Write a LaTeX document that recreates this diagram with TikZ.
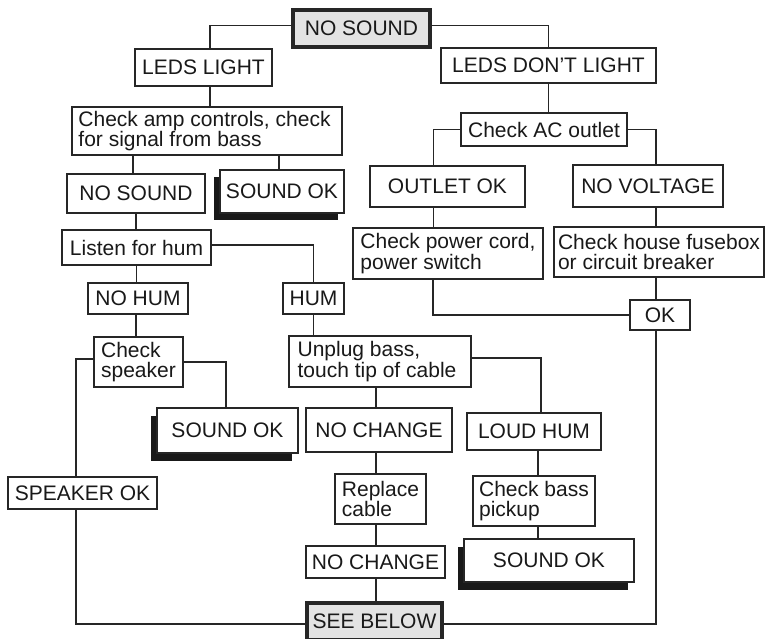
\documentclass[tikz,border=0pt]{standalone}
\usepackage{fontspec}
\setmainfont{Liberation Sans}
\usetikzlibrary{shadows}
\begin{document}
\begin{tikzpicture}[x=1pt,y=-1pt,
  box/.style={draw=black!85,line width=1.4pt,fill=white,inner sep=0pt,text=black!90,
    font=\fontsize{21}{20.5}\selectfont,align=left},
  bold box/.style={box,line width=3.6pt,fill=gray!22},
  shadowed/.style={drop shadow={shadow xshift=-6pt,shadow yshift=-7.5pt,opacity=1,fill=black!90}},
  con/.style={draw=black!85,line width=1.4pt}]
\useasboundingbox (0,0) rectangle (766,639);
\fill[white] (0,0) rectangle (766,639);

\node[bold box,minimum width=137pt,minimum height=37pt] (top) at (361.5,28.5) {NO SOUND};
\node[box,minimum width=137pt,minimum height=37pt] (ledsL) at (203.5,67.5) {LEDS LIGHT};
\node[box,minimum width=215pt,minimum height=35pt] (ledsD) at (548.5,65.5) {LEDS DON'T LIGHT};
\node[box,minimum width=270pt,minimum height=48pt] (amp) at (207,131) {Check amp controls, check\hspace*{5pt}\\for signal from bass};
\node[box,minimum width=138pt,minimum height=39pt] (ns2) at (136,193.5) {NO SOUND};
\node[box,shadowed,minimum width=124pt,minimum height=43pt] (ok1) at (282,191.5) {SOUND OK};
\node[box,minimum width=166pt,minimum height=33pt] (acout) at (544,129.5) {Check AC outlet};
\node[box,minimum width=155pt,minimum height=41pt] (outok) at (447.5,186.5) {OUTLET OK};
\node[box,minimum width=150pt,minimum height=42pt] (novolt) at (648,186) {NO VOLTAGE};
\node[box,minimum width=149pt,minimum height=35pt] (listen) at (136.5,247.5) {Listen for hum};
\node[box,minimum width=190pt,minimum height=51pt] (cord) at (448,253.5) {Check power cord,\\power switch};
\node[box,minimum width=210pt,minimum height=50pt] (fuse) at (659,252) {Check house fusebox\\or circuit breaker};
\node[box,minimum width=100pt,minimum height=31pt] (nohum) at (138,298.5) {NO HUM};
\node[box,minimum width=61pt,minimum height=31pt] (hum) at (313.5,298.5) {HUM};
\node[box,minimum width=60pt,minimum height=30pt] (okv) at (660,315) {OK};
\node[box,minimum width=89pt,minimum height=50pt] (spk) at (138.5,362) {Check\\speaker};
\node[box,minimum width=182pt,minimum height=51pt] (unplug) at (380,361.5) {Unplug bass,\\touch tip of cable\hspace*{6pt}};
\node[box,shadowed,minimum width=141pt,minimum height=45pt] (ok2) at (227.5,430.5) {SOUND OK};
\node[box,minimum width=146pt,minimum height=44pt] (nc1) at (379,430) {NO CHANGE};
\node[box,minimum width=134pt,minimum height=37pt] (loud) at (534,431.5) {LOUD HUM};
\node[box,minimum width=149pt,minimum height=32pt] (spkok) at (82.5,493) {SPEAKER OK};
\node[box,minimum width=91pt,minimum height=50pt] (repl) at (380.5,499) {Replace\\cable};
\node[box,minimum width=122pt,minimum height=50pt] (bassp) at (534,501) {Check bass\\pickup};
\node[box,minimum width=139pt,minimum height=32pt] (nc2) at (375.5,562) {NO CHANGE};
\node[box,shadowed,minimum width=170pt,minimum height=43pt] (ok3) at (549,560.5) {SOUND OK};
\node[bold box,minimum width=135pt,minimum height=37pt] (see) at (374.5,621.5) {SEE BELOW};

\draw[con] ([yshift=3pt]top.west) -| ([xshift=6.5pt]ledsL.north);
\draw[con] ([yshift=3pt]top.east) -| (ledsD.north);
\draw[con] ([xshift=6.5pt]ledsL.south) -- ([xshift=6.5pt]ledsL.south |- amp.north);
\draw[con] ([xshift=-3pt]ns2.north) -- ([xshift=-3pt]ns2.north |- amp.south);
\draw[con] ([xshift=-3pt]ok1.north) -- ([xshift=-3pt]ok1.north |- amp.south);
\draw[con] (ledsD.south) -- (ledsD.south |- acout.north);
\draw[con] (acout.west) -| ([xshift=-14pt]outok.north);
\draw[con] (acout.east) -| ([xshift=8pt]novolt.north);
\draw[con] ([xshift=-14pt]outok.south) -- ([xshift=-14pt]outok.south |- cord.north);
\draw[con] ([xshift=8pt]novolt.south) -- ([xshift=8pt]novolt.south |- fuse.north);
\draw[con] ([xshift=-4pt]okv.north) -- ([xshift=-4pt]okv.north |- fuse.south);
\draw[con] (okv.west) -| ([xshift=-15pt]cord.south);
\draw[con] ([xshift=-4pt]okv.south) |- ([yshift=-2.5pt]see.east);
\draw[con] (ns2.south) -- (ns2.south |- listen.north);
\draw[con] ([yshift=2.5pt]listen.east) -| (hum.north);
\draw[con] (listen.south) -- (listen.south |- nohum.north);
\draw[con] ([xshift=-2pt]nohum.south) -- ([xshift=-2pt]nohum.south |- spk.north);
\draw[con] (hum.south) -- (hum.south |- unplug.north);
\draw[con] ([yshift=3pt]spk.west) -| ([xshift=-6.5pt]spkok.north);
\draw[con] (spk.east) -| ([xshift=-1.5pt]ok2.north);
\draw[con] ([xshift=-6.5pt]spkok.south) |- ([yshift=-2.5pt]see.west);
\draw[con] ([xshift=-4pt]unplug.south) -- ([xshift=-4pt]unplug.south |- nc1.north);
\draw[con] ([yshift=3.5pt]unplug.east) -| ([xshift=7pt]loud.north);
\draw[con] ([xshift=-3pt]nc1.south) -- ([xshift=-3pt]nc1.south |- repl.north);
\draw[con] ([xshift=-4.5pt]repl.south) -- ([xshift=-4.5pt]repl.south |- nc2.north);
\draw[con] ([xshift=0.5pt]nc2.south) -- ([xshift=0.5pt]nc2.south |- see.north);
\draw[con] ([xshift=4pt]loud.south) -- ([xshift=4pt]loud.south |- bassp.north);
\draw[con] ([xshift=4pt]bassp.south) -- ([xshift=4pt]bassp.south |- ok3.north);
\end{tikzpicture}
\end{document}
